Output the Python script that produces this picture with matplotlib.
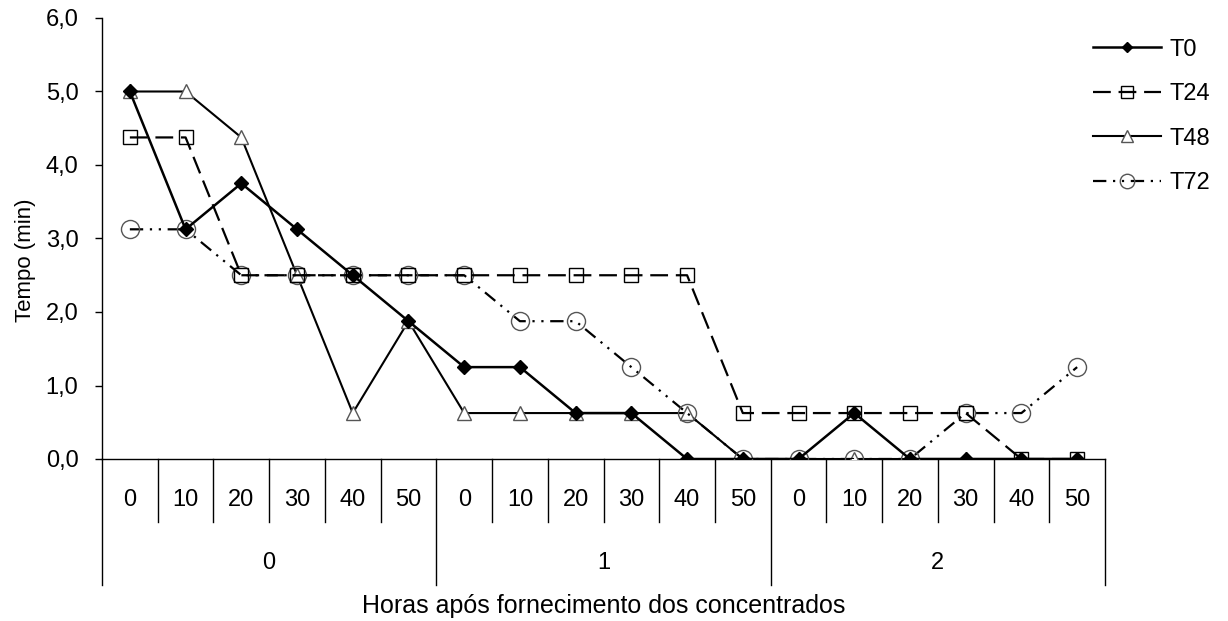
import matplotlib.pyplot as plt

plt.rcParams['font.family'] = ['Liberation Sans', 'DejaVu Sans']

# minutos dentro de cada hora / horas após fornecimento
minutos = ['0', '10', '20', '30', '40', '50']
horas = ['0', '1', '2']

t0 = [5.0, 3.125, 3.75, 3.125, 2.5, 1.875,
      1.25, 1.25, 0.625, 0.625, 0.0, 0.0,
      0.0, 0.625, 0.0, 0.0, 0.0, 0.0]
t24 = [4.375, 4.375, 2.5, 2.5, 2.5, 2.5,
       2.5, 2.5, 2.5, 2.5, 2.5, 0.625,
       0.625, 0.625, 0.625, 0.625, 0.0, 0.0]
t48 = [5.0, 5.0, 4.375, 2.5, 0.625, 1.875,
       0.625, 0.625, 0.625, 0.625, 0.625, 0.0,
       0.0, 0.0, 0.0, 0.0, 0.0, 0.0]
t72 = [3.125, 3.125, 2.5, 2.5, 2.5, 2.5,
       2.5, 1.875, 1.875, 1.25, 0.625, 0.0,
       0.0, 0.0, 0.0, 0.625, 0.625, 1.25]

n = len(minutos) * len(horas)
x = list(range(n))
fs = 17

fig = plt.figure(figsize=(12.28, 6.21), dpi=100)
ax = fig.add_axes([102 / 1228, 1 - 459 / 621, 1003 / 1228, 441 / 621])

cinza = '#555555'
ax.plot(x, t48, color='black', lw=1.5, marker='^', ms=10, mfc='white', mec=cinza,
        mew=1.0, label='T48', zorder=3)
ax.plot(x, t72, color='black', lw=1.6, ls=(0, (6, 3, 1, 3, 1, 3)), marker='o', ms=13,
        mfc='none', mec=cinza, mew=1.0, label='T72', zorder=3)
ax.plot(x, t24, color='black', lw=1.6, ls=(0, (8, 3.5)), marker='s', ms=10,
        mfc='none', mec='black', mew=1.0, label='T24', zorder=4)
ax.plot(x, t0, color='black', lw=1.8, marker='D', ms=7, mfc='black', mec='black',
        label='T0', zorder=5)

ax.set_xlim(-0.5, n - 0.5)
ax.set_ylim(0, 6)
ax.set_yticks([0, 1, 2, 3, 4, 5, 6])
ax.set_yticklabels([('%.1f' % v).replace('.', ',') for v in range(7)])
ax.tick_params(axis='y', direction='out', length=5, width=1, labelsize=fs, pad=12)
ax.set_xticks([])
for s in ['top', 'right']:
    ax.spines[s].set_visible(False)
ax.spines['left'].set_linewidth(1.0)
ax.spines['bottom'].set_linewidth(1.0)
ax.set_ylabel('Tempo (min)', fontsize=16, labelpad=6)
ax.yaxis.set_label_coords(-0.066, 0.45)

# eixo x em dois níveis
trans = ax.get_xaxis_transform()
for i in range(n + 1):
    xs = i - 0.5
    fundo = -0.286 if i % len(minutos) == 0 else -0.143
    ax.plot([xs, xs], [0, fundo], color='black', lw=1.0, transform=trans, clip_on=False)
for i, xi in enumerate(x):
    ax.text(xi, -0.093, minutos[i % len(minutos)], transform=trans, ha='center',
            va='center', fontsize=fs)
for j, h in enumerate(horas):
    centro = j * len(minutos) + (len(minutos) - 1) / 2
    ax.text(centro, -0.236, h, transform=trans, ha='center', va='center', fontsize=fs)
ax.text((n - 1) / 2, -0.333, 'Horas após fornecimento dos concentrados', transform=trans,
        ha='center', va='center', fontsize=18)

# legenda
h, l = ax.get_legend_handles_labels()
ordem = ['T0', 'T24', 'T48', 'T72']
hs = [h[l.index(o)] for o in ordem]
fig.legend(hs, ordem, loc='upper left', bbox_to_anchor=(1088 / 1228, 1 - 34 / 621),
           frameon=False, fontsize=fs, handlelength=2.9, labelspacing=0.95,
           handletextpad=0.35, markerscale=0.8, borderpad=0.2, borderaxespad=0)

fig.savefig('out.png', dpi=100)
